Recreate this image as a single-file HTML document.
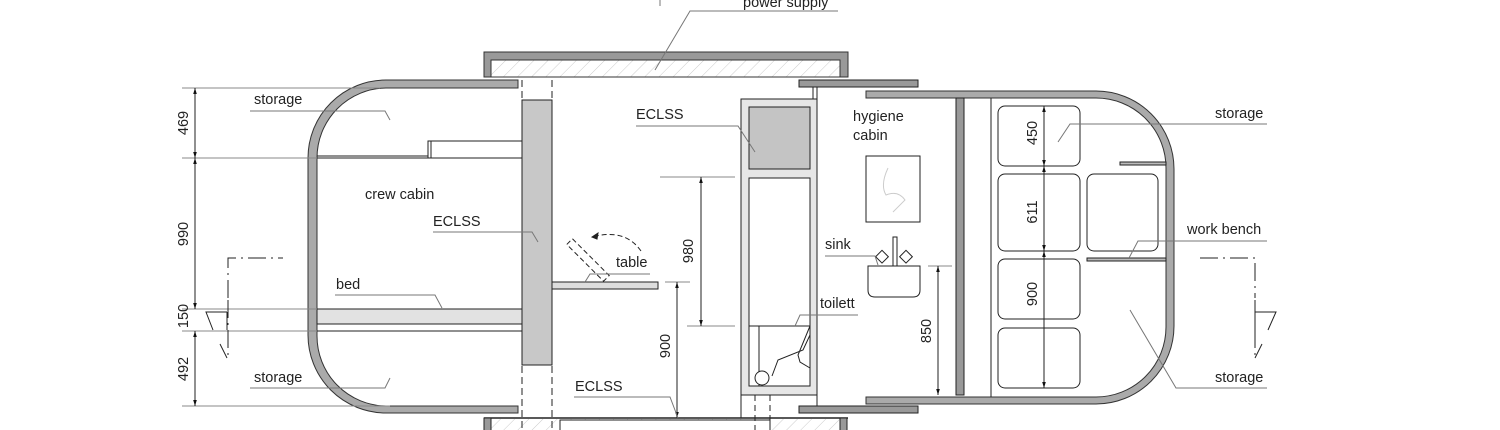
<!DOCTYPE html>
<html><head><meta charset="utf-8"><style>
html,body{margin:0;padding:0;background:#fff;}
svg{display:block}
text{font-family:"Liberation Sans",sans-serif;font-size:14.5px;fill:#222}
</style></head><body>
<svg width="1500" height="430" viewBox="0 0 1500 430" xmlns="http://www.w3.org/2000/svg">
<defs>
<pattern id="h" width="10" height="10" patternUnits="userSpaceOnUse" patternTransform="rotate(45)">
<rect width="10" height="10" fill="#fff"/>
<line x1="0" y1="0" x2="0" y2="10" stroke="#ccc" stroke-width="1"/></pattern>
<marker id="a" viewBox="0 0 10 10" refX="10" refY="5" markerWidth="6" markerHeight="8" orient="auto-start-reverse"><path d="M0,2 L10,5 L0,8 z" fill="#111"/></marker>
</defs>
<g stroke="#222" fill="none" stroke-width="1">
<!-- power supply top box -->
<path d="M484,77 V52 H848 V77 H840 V60 H491 V77 Z" fill="#999" stroke="#333"/>
<rect x="491" y="60" width="349" height="17" fill="url(#h)" stroke="#333"/>
<!-- bottom box -->
<rect x="491" y="419" width="349" height="12" fill="url(#h)" stroke="none"/>
<line x1="484" y1="418" x2="848" y2="418" stroke-width="1.5"/>
<rect x="484" y="418" width="7" height="14" fill="#999"/>
<rect x="840" y="418" width="7" height="14" fill="#999"/>
<rect x="560" y="420" width="210" height="12" fill="#fff"/>

<!-- left shell -->
<path d="M518,80 H386 A78,78 0 0 0 308,158 V335 A78,78 0 0 0 386,413 H518 V406 H386 A70,70 0 0 1 317,336 V158 A70,70 0 0 1 386,88 H518 Z" fill="#aaa" stroke="#333"/>
<line x1="522" y1="80" x2="522" y2="430" stroke-dasharray="7,4"/>
<line x1="552" y1="80" x2="552" y2="430" stroke-dasharray="7,4"/>
<rect x="522" y="100" width="30" height="265" fill="#c8c8c8"/>
<line x1="317" y1="158" x2="522" y2="158"/>
<line x1="317" y1="156" x2="428" y2="156"/>
<path d="M428,158 V141 H522"/>
<line x1="431" y1="141" x2="431" y2="158"/>
<rect x="317" y="309" width="205" height="15" fill="#e2e2e2"/>
<line x1="317" y1="331" x2="522" y2="331"/>
<g stroke="#888">
<line x1="182" y1="88" x2="380" y2="88"/>
<line x1="182" y1="158" x2="317" y2="158"/>
<line x1="182" y1="309" x2="317" y2="309"/>
<line x1="182" y1="331" x2="317" y2="331"/>
<line x1="182" y1="406" x2="390" y2="406"/>
</g>
<line x1="195" y1="88" x2="195" y2="158" marker-start="url(#a)" marker-end="url(#a)"/>
<line x1="195" y1="158" x2="195" y2="309" marker-start="url(#a)" marker-end="url(#a)"/>
<line x1="195" y1="331" x2="195" y2="406" marker-start="url(#a)" marker-end="url(#a)"/>
<path d="M228,298 V258 H283" stroke-dasharray="18,5,2,5"/>
<path d="M228,300 V358" stroke-dasharray="18,5,2,5"/>
<path d="M227,312 H206 L213,330"/>
<line x1="227" y1="312" x2="227" y2="330"/>
<line x1="220" y1="344" x2="227" y2="358"/>

<rect x="552" y="282" width="106" height="7" fill="#ddd"/>
<rect x="562" y="256" width="52" height="8" transform="rotate(45 588 260)" stroke-dasharray="5,3"/>
<path d="M641,251 Q625,228 592,237" stroke-dasharray="5,3"/>
<path d="M592,237 l6,-4 l-1,6 z" fill="#222"/>
<g stroke="#888">
<line x1="660" y1="177" x2="735" y2="177"/>
<line x1="687" y1="326" x2="735" y2="326"/>
<line x1="665" y1="282" x2="690" y2="282"/>
</g>
<line x1="701" y1="177" x2="701" y2="326" marker-start="url(#a)" marker-end="url(#a)"/>
<line x1="677" y1="282" x2="677" y2="418" marker-start="url(#a)" marker-end="url(#a)"/>

<rect x="741" y="99" width="76" height="296" fill="#e6e6e6"/>
<rect x="749" y="107" width="61" height="62" fill="#c4c4c4"/>
<rect x="749" y="178" width="61" height="148" fill="#fff"/>
<rect x="749" y="326" width="61" height="60" fill="#fff"/>
<path d="M759,326 V386 M810,326 L798,355 L800,362 L810,368 M810,335 L803,350 L778,360 L772,376" />
<circle cx="762" cy="378" r="7" fill="#fff"/>
<line x1="741" y1="395" x2="741" y2="418"/>
<line x1="817" y1="395" x2="817" y2="406"/>
<line x1="755" y1="395" x2="755" y2="430" stroke-dasharray="6,4"/>
<line x1="770" y1="395" x2="770" y2="430" stroke-dasharray="6,4"/>
<line x1="813" y1="87" x2="813" y2="99"/>
<line x1="817" y1="87" x2="817" y2="99"/>

<rect x="799" y="80" width="119" height="7" fill="#999"/>
<rect x="799" y="406" width="119" height="7" fill="#999"/>
<path d="M866,91 H1096 A78,78 0 0 1 1174,169 V326 A78,78 0 0 1 1096,404 H866 V397 H1096 A70,70 0 0 0 1166,327 V169 A70,70 0 0 0 1096,98 H866 Z" fill="#aaa" stroke="#333"/>
<rect x="956" y="98" width="8" height="297" fill="#999"/>
<line x1="991" y1="98" x2="991" y2="397"/>
<rect x="998" y="106" width="82" height="60" rx="7" fill="#fff"/>
<rect x="998" y="174" width="82" height="77" rx="7" fill="#fff"/>
<rect x="998" y="259" width="82" height="60" rx="7" fill="#fff"/>
<rect x="998" y="328" width="82" height="60" rx="7" fill="#fff"/>
<rect x="1087" y="174" width="71" height="77" rx="7" fill="#fff"/>
<rect x="1120" y="162" width="46" height="3" fill="#bbb"/>
<rect x="1087" y="258" width="79" height="3" fill="#bbb"/>
<line x1="1044" y1="106" x2="1044" y2="166" marker-start="url(#a)" marker-end="url(#a)"/>
<line x1="1044" y1="166" x2="1044" y2="251" marker-start="url(#a)" marker-end="url(#a)"/>
<line x1="1044" y1="251" x2="1044" y2="388" marker-start="url(#a)" marker-end="url(#a)"/>
<rect x="866" y="156" width="54" height="66" fill="#fff"/>
<path d="M888,168 Q880,185 886,195 Q898,190 905,200 L893,212" stroke="#ccc"/>
<path d="M868,266 H920 V290 Q920,297 913,297 H875 Q868,297 868,290 Z" fill="#fff"/>
<rect x="893" y="237" width="4" height="29" fill="#fff"/>
<rect x="878" y="252" width="9" height="9" transform="rotate(45 882 256)" fill="#fff"/>
<rect x="902" y="252" width="9" height="9" transform="rotate(45 906 256)" fill="#fff"/>
<line x1="928" y1="266" x2="952" y2="266" stroke="#888"/>
<line x1="938" y1="266" x2="938" y2="395" marker-start="url(#a)" marker-end="url(#a)"/>
<path d="M1200,258 H1255 V298" stroke-dasharray="18,5,2,5"/>
<path d="M1255,300 V358" stroke-dasharray="18,5,2,5"/>
<path d="M1255,312 H1276 L1268,330"/>
<line x1="1255" y1="312" x2="1255" y2="330"/>
<line x1="1262" y1="344" x2="1255" y2="358"/>

<g stroke="#777">
<path d="M838,11 H690 L655,70"/>
<line x1="660" y1="0" x2="660" y2="6"/>
<path d="M250,111 H385 L390,120"/>
<path d="M433,232 H532 L538,242"/>
<path d="M335,295 H435 L442,308"/>
<path d="M250,388 H385 L390,378"/>
<path d="M650,274 H590 L585,282"/>
<path d="M636,126 H738 L755,152"/>
<path d="M574,397 H670 L678,418"/>
<path d="M825,256 H875 L878,265"/>
<path d="M858,315 H800 L795,326"/>
<path d="M1267,124 H1070 L1058,142"/>
<path d="M1267,241 H1138 L1129,258"/>
<path d="M1267,388 H1176 L1130,310"/>
</g>
</g>
<text x="743" y="7">power supply</text>
<text x="254" y="104">storage</text>
<text x="365" y="199">crew cabin</text>
<text x="433" y="226">ECLSS</text>
<text x="336" y="289">bed</text>
<text x="254" y="382">storage</text>
<text x="616" y="267">table</text>
<text x="636" y="119">ECLSS</text>
<text x="575" y="391">ECLSS</text>
<text x="853" y="121">hygiene</text>
<text x="853" y="140">cabin</text>
<text x="825" y="249">sink</text>
<text x="820" y="308">toilett</text>
<text x="1215" y="118">storage</text>
<text x="1187" y="234">work bench</text>
<text x="1215" y="382">storage</text>
<g>
<text transform="translate(188,123) rotate(-90)" text-anchor="middle">469</text>
<text transform="translate(188,234) rotate(-90)" text-anchor="middle">990</text>
<text transform="translate(188,316) rotate(-90)" text-anchor="middle">150</text>
<text transform="translate(188,369) rotate(-90)" text-anchor="middle">492</text>
<text transform="translate(693,251) rotate(-90)" text-anchor="middle">980</text>
<text transform="translate(670,346) rotate(-90)" text-anchor="middle">900</text>
<text transform="translate(931,331) rotate(-90)" text-anchor="middle">850</text>
<text transform="translate(1037,133) rotate(-90)" text-anchor="middle">450</text>
<text transform="translate(1037,212) rotate(-90)" text-anchor="middle">611</text>
<text transform="translate(1037,294) rotate(-90)" text-anchor="middle">900</text>
</g>
</svg>
</body></html>
